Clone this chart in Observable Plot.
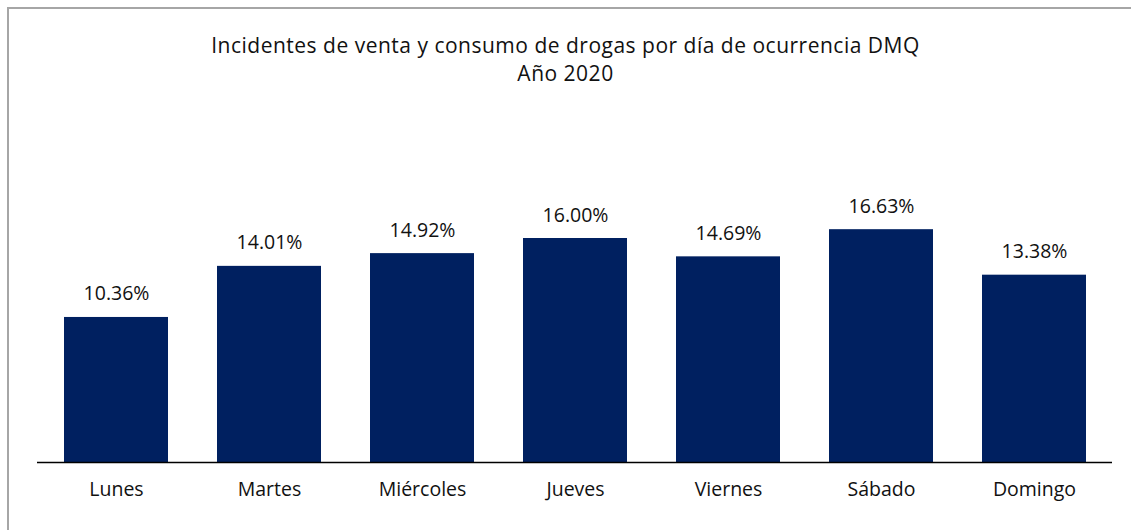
<!DOCTYPE html>
<html>
<head>
<meta charset="utf-8">
<script src="https://cdn.jsdelivr.net/npm/d3@7"></script>
<script src="https://cdn.jsdelivr.net/npm/@observablehq/plot@0.6"></script>
<style>
  html, body { margin: 0; padding: 0; background: #fff; overflow: hidden; width: 1131px; height: 530px; }
  #frame { position: absolute; left: 7px; top: 7px; width: 1200px; height: 600px; border-top: 2px solid #a6a6a6; border-left: 2px solid #a6a6a6; }
  #wrap { position: absolute; left: 0; top: 0; width: 1131px; font-family: "Open Sans", sans-serif; }
  #title { height: 100px; text-align: center; font-size: 21px; letter-spacing: 0.5px; color: #111; line-height: 28px; box-sizing: border-box; }
  #title div:first-child { padding-top: 31px; }
  svg { display: block; }
</style>
</head>
<body>
<div id="frame"></div>
<div id="wrap">
  <div id="title"><div>Incidentes de venta y consumo de drogas por día de ocurrencia DMQ</div><div>Año 2020</div></div>
  <div id="chart"></div>
</div>
<script>
const days = ["Lunes", "Martes", "Miércoles", "Jueves", "Viernes", "Sábado", "Domingo"];
const shares = [10.36, 14.01, 14.92, 16.00, 14.69, 16.63, 13.38];
const valueLabels = ["10.36%", "14.01%", "14.92%", "16.00%", "14.69%", "16.63%", "13.38%"];

const data = days.map((d, i) => ({day: d, value: shares[i], label: valueLabels[i]}));

const chart = Plot.plot({
  width: 1131,
  height: 430,
  marginLeft: 37,
  marginRight: 19,
  marginTop: 110,
  marginBottom: 68,
  style: { fontFamily: "Open Sans, sans-serif", fontSize: "19.5px", color: "#111", background: "transparent" },
  x: { domain: days, paddingInner: 0.323, paddingOuter: 0.1615, label: null },
  y: { domain: [0, 18], axis: null },
  marks: [
    Plot.barY(data, { x: "day", y: "value", fill: "#002060" }),
    Plot.ruleY([0], { stroke: "#000", strokeWidth: 1.5 }),
    Plot.text(data, { x: "day", y: "value", text: "label", lineAnchor: "bottom", dy: -17, fontSize: 19.5, fill: "#111" }),
    Plot.axisX({ tickSize: 0, tickPadding: 20, fontSize: 19.5, fill: "#111" })
  ]
});
document.getElementById("chart").appendChild(chart);
</script>
</body>
</html>
